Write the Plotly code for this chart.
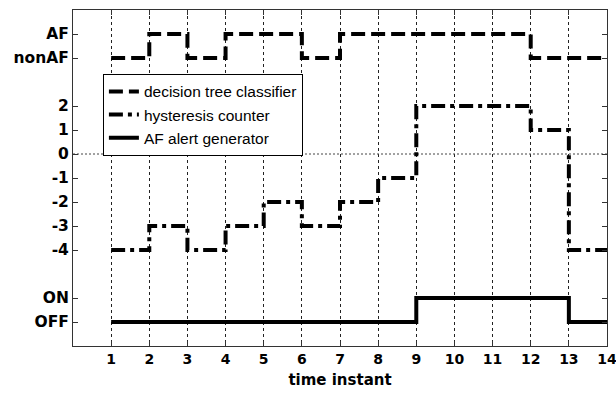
import plotly.graph_objects as go

# ---- data ----
time_instants = [1, 2, 3, 4, 5, 6, 7, 8, 9, 10, 11, 12, 13, 14]
classifier = ["nonAF", "AF", "nonAF", "AF", "AF", "nonAF", "AF", "AF", "AF", "AF", "AF", "nonAF", "nonAF", "nonAF"]
hysteresis = ["-4", "-3", "-4", "-3", "-2", "-3", "-2", "-1", "2", "2", "2", "1", "-4", "-4"]
alert = ["OFF", "OFF", "OFF", "OFF", "OFF", "OFF", "OFF", "OFF", "ON", "ON", "ON", "ON", "OFF", "OFF"]

# category order on the y axis (blank entries are spacer rows)
y_categories = ["OFF", "ON", " ", "-4", "-3", "-2", "-1", "0", "1", "2", "  ", "nonAF", "AF"]
y_tick_labels = ["OFF", "ON", "-4", "-3", "-2", "-1", "0", "1", "2", "nonAF", "AF"]
x_ticks = list(range(1, 15))
zero_line_x = [0, 14]
zero_line_y = ["0", "0"]

fig = go.Figure()

fig.add_trace(go.Scatter(
    x=zero_line_x, y=zero_line_y, mode="lines", showlegend=False,
    line=dict(color="#444444", width=1, dash="2px,2px"), hoverinfo="skip"))

fig.add_trace(go.Scatter(
    x=time_instants, y=classifier, mode="lines", line_shape="hv",
    name="decision tree classifier",
    line=dict(color="black", width=4, dash="14px,6px")))

fig.add_trace(go.Scatter(
    x=time_instants, y=hysteresis, mode="lines", line_shape="hv",
    name="hysteresis counter",
    line=dict(color="black", width=4, dash="14px,5px,4px,5px")))

fig.add_trace(go.Scatter(
    x=time_instants, y=alert, mode="lines", line_shape="hv",
    name="AF alert generator",
    line=dict(color="black", width=4)))

x_tick_font = dict(family="DejaVu Sans", size=14, color="black", weight="bold")
y_tick_font = dict(family="DejaVu Sans", size=15.5, color="black", weight="bold")
title_font = dict(family="DejaVu Sans", size=15, color="black", weight="bold")

fig.update_layout(
    width=616, height=394,
    margin=dict(l=73, r=9, t=10, b=48),
    plot_bgcolor="white", paper_bgcolor="white",
    font=dict(family="Arial", color="black"),
    showlegend=True,
    legend=dict(
        x=0.056, y=0.81, xanchor="left", yanchor="top",
        bgcolor="white", bordercolor="black", borderwidth=1,
        font=dict(family="Arial", size=15.5, color="black"),
        tracegroupgap=0,
    ),
    xaxis=dict(
        range=[0, 14], tickmode="array", tickvals=x_ticks,
        showgrid=True, gridcolor="#222222", griddash="dot", gridwidth=1,
        zeroline=False, showline=True, linecolor="#333333", linewidth=1,
        mirror="ticks", ticks="inside", ticklen=5, tickcolor="#333333",
        tickfont=x_tick_font, automargin=False, ticklabeloverflow="allow",
        title=dict(text="time instant", font=title_font, standoff=8),
    ),
    yaxis=dict(
        type="category", categoryorder="array", categoryarray=y_categories,
        range=[-1, 13], tickmode="array", tickvals=y_tick_labels, ticktext=y_tick_labels,
        showgrid=False, zeroline=False, showline=True, linecolor="#333333", linewidth=1,
        mirror="ticks", ticks="inside", ticklen=5, tickcolor="#333333",
        tickfont=y_tick_font, automargin=False, ticklabeloverflow="allow",
    ),
)

fig.write_html(
    "out.html",
    config={"displayModeBar": False},
    post_script="document.body.style.margin='0';document.body.style.overflow='hidden';",
)
